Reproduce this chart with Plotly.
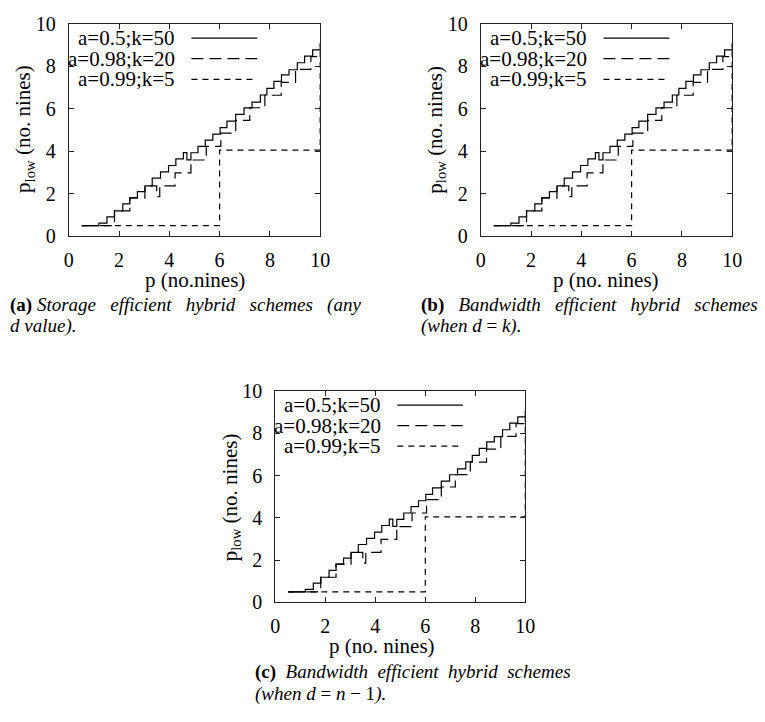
import plotly.graph_objects as go

# ---- data (identical in all three panels) ----
solid_p = [0.52, 1.2, 1.52, 1.82, 2.15, 2.43, 2.73, 3.03, 3.32, 3.65, 3.97, 4.26, 4.56, 4.7, 4.86,
           5.14, 5.43, 5.73, 6.02, 6.29, 6.64, 6.97, 7.29, 7.62, 7.88, 8.16, 8.46, 8.76, 9.09, 9.38, 9.7, 10.0]
solid_y = [0.5, 0.62, 0.91, 1.19, 1.52, 1.81, 2.1, 2.37, 2.74, 3.03, 3.33, 3.64, 3.94, 3.6, 3.93,
           4.23, 4.53, 4.81, 5.11, 5.42, 5.74, 6.04, 6.32, 6.65, 6.96, 7.29, 7.6, 7.84, 8.17, 8.48, 8.78, 9.09]

dash_p = [0.52, 1.82, 2.43, 3.03, 3.5, 3.62, 4.23, 4.86, 5.47, 6.05, 6.64, 7.2, 7.8, 8.45, 9.02, 9.63, 10.0]
dash_y = [0.5, 1.19, 1.81, 2.37, 1.86, 2.37, 2.98, 3.59, 4.23, 4.86, 5.46, 6.05, 6.64, 7.25, 7.86, 8.46, 8.46]

short_p = [0.52, 6.0, 10.0]
short_y = [0.5, 4.05, 9.0]

series_names = ["a=0.5;k=50", "a=0.98;k=20", "a=0.99;k=5"]
tick_vals = [0, 2, 4, 6, 8, 10]

x_titles = ["p (no.nines)", "p (no. nines)", "p (no. nines)"]
y_title = "p<sub>low</sub> (no. nines)"

W, H = 765, 722
FONT = "'Liberation Serif', 'Times New Roman', Times, serif"
dashes = ["solid", "12px,6px", "6px,5px"]

# panel boxes in pixels: (left, right, top, bottom)
boxes = [(65, 321.5, 13.3, 232.3), (485.3, 741.7, 13.3, 232.3), (275.7, 530.7, 392, 610)]
xtitle_pos = [(194, 277), (613, 277), (385, 655)]
ytitle_pos = [(20, 122), (440, 122), (230, 501)]

captions = [
    ("<b>(a)</b> <i>Storage \u00a0\u00a0efficient \u00a0\u00a0hybrid \u00a0\u00a0schemes \u00a0\u00a0(any</i>",
     "<i>d value).</i>", 3, 303, 325),
    ("<b>(b)</b> \u00a0\u00a0<i>Bandwidth \u00a0\u00a0efficient \u00a0\u00a0hybrid \u00a0\u00a0schemes</i>",
     "<i>(when d</i> = <i>k).</i>", 422, 303, 325),
    ("<b>(c)</b> \u00a0<i>Bandwidth \u00a0efficient \u00a0hybrid \u00a0schemes</i>",
     "<i>(when d</i> = <i>n</i> \u2212 1<i>).</i>", 253, 682, 704),
]

fig = go.Figure()
ann = []
shapes = []

for i in range(3):
    ax = "" if i == 0 else str(i + 1)
    xa, ya = "x" + ax, "y" + ax
    l, r, t, b = boxes[i]
    for name, xs, ys, dsh in zip(series_names, [solid_p, dash_p, short_p], [solid_y, dash_y, short_y], dashes):
        fig.add_trace(go.Scatter(x=xs, y=ys, mode="lines", line=dict(shape="hv", color="black", width=1.2, dash=dsh),
                                 name=name, showlegend=False, xaxis=xa, yaxis=ya))
    axcommon = dict(range=[0, 10], tickvals=tick_vals, ticks="inside", ticklen=5, tickwidth=1, tickcolor="#222",
                    showline=True, linecolor="#222", linewidth=1, mirror="ticks", showgrid=False, zeroline=False,
                    tickfont=dict(family=FONT, size=20, color="black"), fixedrange=True)
    fig.update_layout(**{
        ("xaxis" + ax): dict(domain=[l / W, r / W], anchor=ya, ticklabelstandoff=6, **axcommon),
        ("yaxis" + ax): dict(domain=[1 - b / H, 1 - t / H], anchor=xa, ticklabelstandoff=8, **axcommon),
    })
    # legend (gnuplot style: text right-aligned, sample to the right)
    rows = [0.933, 0.836, 0.739]
    for name, dsh, ry in zip(series_names, dashes, rows):
        ann.append(dict(text=name, xref=xa + " domain", yref=ya + " domain", x=0.432, y=ry, xanchor="right",
                        yanchor="middle", showarrow=False, font=dict(family=FONT, size=21, color="black")))
        shapes.append(dict(type="line", xref=xa + " domain", yref=ya + " domain", x0=0.488, x1=0.75, y0=ry, y1=ry,
                           line=dict(color="black", width=1.2, dash=dsh)))
    # axis titles
    xt = xtitle_pos[i]
    ann.append(dict(text=x_titles[i], xref="paper", yref="paper", x=xt[0] / W, y=1 - xt[1] / H, xanchor="center",
                    yanchor="middle", showarrow=False, font=dict(family=FONT, size=21, color="black")))
    yt = ytitle_pos[i]
    ann.append(dict(text=y_title, xref="paper", yref="paper", x=yt[0] / W, y=1 - yt[1] / H, xanchor="center",
                    yanchor="middle", textangle=-90, showarrow=False, font=dict(family=FONT, size=21, color="black")))
    # caption
    c1, c2, cx, cy1, cy2 = captions[i]
    for txt, cy in [(c1, cy1), (c2, cy2)]:
        ann.append(dict(text=txt, xref="paper", yref="paper", x=cx / W, y=1 - cy / H, xanchor="left",
                        yanchor="middle", showarrow=False, font=dict(family=FONT, size=19, color="black")))

fig.update_layout(width=W, height=H, margin=dict(l=0, r=0, t=0, b=0), paper_bgcolor="white",
                  plot_bgcolor="white", annotations=ann, shapes=shapes, showlegend=False,
                  font=dict(family=FONT, color="black"))
fig.write_html("out.html")
